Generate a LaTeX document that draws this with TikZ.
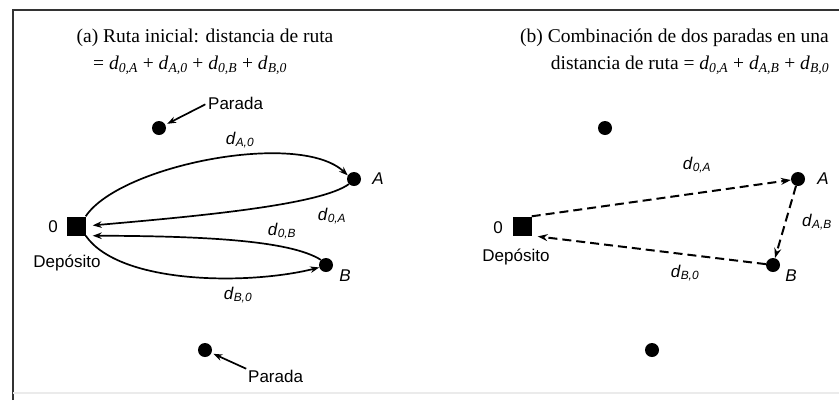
\documentclass[tikz,border=0pt]{standalone}
\usepackage{fontspec}
\setmainfont{Liberation Sans}
\newfontfamily\serifr{Liberation Serif}
\usetikzlibrary{arrows.meta}
\newcommand\dsub[1]{\textit{d}\textsubscript{\textit{#1}}}
\begin{document}
\begin{tikzpicture}[x=1pt,y=-1pt,
  lbl/.style={font=\fontsize{17}{20}\selectfont, inner sep=0pt},
  ttl/.style={font=\serifr\fontsize{19.5}{22}\selectfont, inner sep=0pt},
  stopdot/.style={circle, fill=black, minimum size=14pt, inner sep=0pt},
  depot/.style={rectangle, fill=black, minimum size=19pt, inner sep=0pt},
  arr/.style={line width=1.7pt, -{Stealth[length=9pt,width=6.5pt]}},
  dsh/.style={line width=2pt, -{Stealth[length=10pt,width=7pt]}, dash pattern=on 9pt off 5pt},
  parr/.style={line width=1.7pt, -{Stealth[length=9pt,width=6.5pt]}},
]
\useasboundingbox (0,0) rectangle (839,400);
\fill[white] (0,0) rectangle (839,400);
% frame
\draw[line width=2.5pt, black!80] (13,400) -- (13,10) -- (839,10);
\draw[line width=2pt, black!8] (13,393) -- (839,393);

% titles
\node[ttl] (ta1) at (205,38) {(a) Ruta inicial: distancia de ruta};
\node[ttl] (ta2) at (190,65) {= \dsub{0,A} + \dsub{A,0} + \dsub{0,B} + \dsub{B,0}};
\node[ttl, anchor=west] (tb1) at (520,38) {(b) Combinación de dos paradas en una};
\node[ttl] (tb2) at (690,65) {distancia de ruta = \dsub{0,A} + \dsub{A,B} + \dsub{B,0}};

% left panel
\node[depot] (D1) at (76,226) {};
\node[lbl] (z1) at (53,227) {0};
\node[lbl] (dep1) at (67,263) {Depósito};
\node[stopdot] (A1) at (354,179) {};
\node[lbl] (la1) at (378,179) {\textit{A}};
\node[stopdot] (B1) at (326,265) {};
\node[lbl] (lb1) at (345,276) {\textit{B}};
\node[stopdot] (P1) at (159,128) {};
\node[lbl, anchor=west] (pt1) at (208,103) {Parada};
\node[stopdot] (P2) at (205,350) {};
\node[lbl, anchor=west] (pt2) at (248,376) {Parada};

\node[lbl] (lA0) at (240,140) {\dsub{A,0}};
\node[lbl] (l0A) at (332,216) {\dsub{0,A}};
\node[lbl] (l0B) at (282,231) {\dsub{0,B}};
\node[lbl] (lB0) at (238,295) {\dsub{B,0}};

\draw[arr] (D1.north east) .. controls (120,165) and (300,130) .. (A1.150);
\draw[arr, shorten >=7pt] (A1.225) .. controls (320,205) and (200,216) .. (D1.east);
\draw[arr, shorten >=7pt] (B1.135) .. controls (290,240) and (200,236) .. (D1.south east);
\draw[arr] (D1.south east) .. controls (120,285) and (250,285) .. (B1.200);

\draw[parr, shorten <=3pt, shorten >=2pt] (pt1.west) -- (P1);
\draw[parr, shorten <=2pt, shorten >=2pt] (pt2.north west) -- (P2);

% right panel
\node[depot] (D2) at (522,226) {};
\node[lbl] (z2) at (498,228) {0};
\node[lbl] (dep2) at (516,257) {Depósito};
\node[stopdot] (A2) at (798,179) {};
\node[lbl] (la2) at (823,179) {\textit{A}};
\node[stopdot] (B2) at (773,265) {};
\node[lbl] (lb2) at (791,276) {\textit{B}};
\node[stopdot] (P3) at (605,128) {};
\node[stopdot] (P4) at (652,350) {};

\node[lbl] (r0A) at (697,165) {\dsub{0,A}};
\node[lbl] (rAB) at (817,222) {\dsub{A,B}};
\node[lbl] (rB0) at (685,273) {\dsub{B,0}};

\draw[dsh] (D2.north east) -- (A2);
\draw[dsh] (A2) -- (B2);
\draw[dsh, shorten >=6pt] (B2) -- (D2.south east);
\end{tikzpicture}
\end{document}
